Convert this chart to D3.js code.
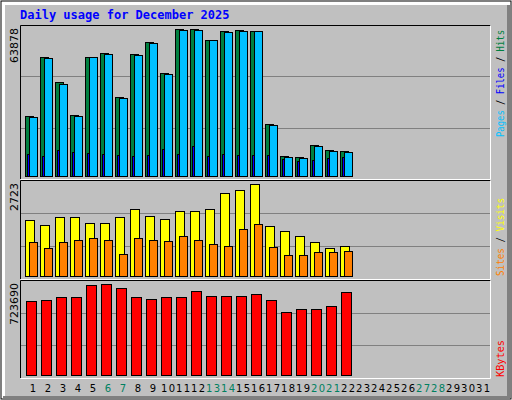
<!DOCTYPE html>
<html><head><meta charset="utf-8">
<script src="https://cdn.jsdelivr.net/npm/d3@7"></script>
<style>body{margin:0;background:#fff}svg{display:block}</style>
</head><body>
<svg width="512" height="400"></svg>
<script>
const days = d3.range(1, 32);
const weekend = [6, 7, 13, 14, 20, 21, 27, 28];
const hits = [26070, 51706, 40843, 26505, 51706, 53444, 34326, 53009, 58223, 44754, 63878, 63878, 59092, 63003, 63437, 63003, 22594, 8690, 8256, 13470, 11297, 10863];
const files = [25640, 51270, 39970, 26070, 51706, 53009, 33890, 52575, 57790, 44320, 63437, 63437, 59092, 62570, 63003, 63003, 22160, 8256, 7821, 13035, 10863, 10428];
const pages = [9559, 8690, 11297, 10428, 9994, 9559, 9125, 8690, 9125, 11732, 9559, 13035, 8690, 9559, 9125, 9125, 9125, 7387, 6518, 6952, 7821, 8256];
const visits = [1654, 1506, 1743, 1743, 1565, 1565, 1743, 1981, 1773, 1684, 1921, 1921, 1981, 2456, 2545, 2723, 1476, 1327, 1179, 1001, 823, 882];
const sites = [1001, 823, 1001, 1060, 1120, 1060, 644, 1120, 1060, 1031, 1179, 1060, 941, 882, 1387, 1535, 852, 615, 615, 704, 704, 734];
const kbytes = [586524, 594450, 618228, 618228, 713340, 723690, 689562, 618228, 602376, 618228, 618228, 665784, 626154, 626154, 626154, 642006, 594450, 499338, 523116, 523116, 546894, 657858];

const svg = d3.select("svg");
svg.append("rect").attr("x", 0).attr("y", 0).attr("width", 512).attr("height", 400).attr("fill", "#fff");
svg.append("rect").attr("x", 1).attr("y", 1).attr("width", 510).attr("height", 398).attr("fill", "none").attr("stroke", "#000");
svg.append("rect").attr("x", 5).attr("y", 5).attr("width", 502).attr("height", 391).attr("fill", "#c0c0c0");
svg.append("rect").attr("x", 507).attr("y", 5).attr("width", 3).attr("height", 393).attr("fill", "#808080");
svg.append("rect").attr("x", 3).attr("y", 396).attr("width", 507).attr("height", 2).attr("fill", "#808080");

svg.append("text").attr("x", 20).attr("y", 19).text("Daily usage for December 2025")
  .attr("font-family", "DejaVu Sans Mono").attr("font-weight", "bold").attr("font-size", 12).attr("fill", "#0000ff");

const x = d3.scaleLinear().domain([1, 31]).range([25, 475]);

const panels = [
  {top: 25, bottom: 179, base: 176, maxY: 29, max: 63878},
  {top: 180, bottom: 279, base: 276, maxY: 184.3, max: 2723},
  {top: 280, bottom: 378, base: 375.3, maxY: 284, max: 723690}
];
panels.forEach(p => {
  p.y = d3.scaleLinear().domain([0, p.max]).range([p.base, p.maxY]);
  const h = p.bottom - p.top;
  [1, 2].forEach(i => {
    const gy = Math.round(p.top + h * i / 3) + 0.5;
    svg.append("line").attr("x1", 21).attr("x2", 490).attr("y1", gy).attr("y2", gy).attr("stroke", "#808080");
  });
  svg.append("path").attr("d", `M20.5,${p.bottom}V${p.top + 0.5}H490.5`).attr("fill", "none").attr("stroke", "#000");
  svg.append("path").attr("d", `M20.5,${p.bottom + 0.5}H490.5V${p.top + 0.5}`).attr("fill", "none").attr("stroke", "#fff");
  svg.append("text").attr("transform", `translate(18,${p.top + 3}) rotate(-90)`).attr("text-anchor", "end")
    .attr("font-family", "DejaVu Sans").attr("font-size", 11).attr("fill", "#000").text(p.max);
});

function bars(vals, p, dx, w, color) {
  svg.append("g").selectAll("rect").data(vals).join("rect")
    .attr("x", (v, i) => x(i + 1) + dx + 0.5)
    .attr("y", v => Math.round(p.y(v)) + 0.5)
    .attr("width", w)
    .attr("height", v => Math.round(p.base - p.y(v)))
    .attr("fill", color).attr("stroke", "#000");
}
bars(hits, panels[0], 0, 8, "#008040");
bars(files, panels[0], 4, 8, "#00c0ff");
bars(pages, panels[0], 2, 2, "#0000ff");
bars(visits, panels[1], 0, 9, "#ffff00");
bars(sites, panels[1], 4, 8, "#ff8000");
bars(kbytes, panels[2], 1, 10, "#ff0000");

svg.append("g").selectAll("text").data(days).join("text")
  .attr("x", d => x(d) + 8).attr("y", 392).attr("text-anchor", "middle")
  .attr("font-family", "DejaVu Sans").attr("font-size", 10)
  .attr("textLength", d => d > 9 ? 14 : null)
  .attr("fill", d => weekend.includes(d) ? "#008060" : "#000").text(d => d);

function sideLabel(yBottom, len, parts) {
  const t = svg.append("text").attr("transform", `translate(504,${yBottom}) rotate(-90)`)
    .attr("font-family", "DejaVu Sans Mono").attr("font-size", 10)
    .attr("textLength", len).attr("lengthAdjust", "spacingAndGlyphs");
  parts.forEach(([s, c]) => t.append("tspan").attr("fill", c).text(s));
}
sideLabel(137, 107, [["Pages", "#00c0ff"], [" / ", "#000"], ["Files", "#0000ff"], [" / ", "#000"], ["Hits", "#008040"]]);
sideLabel(276, 78, [["Sites", "#ff8000"], [" / ", "#000"], ["Visits", "#ffff00"]]);
sideLabel(377, 37, [["KBytes", "#ff0000"]]);
</script>
</body></html>
